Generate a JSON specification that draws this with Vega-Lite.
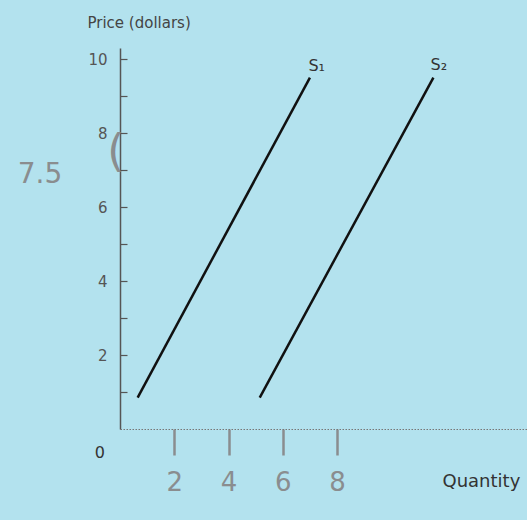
{
  "$schema": "https://vega.github.io/schema/vega-lite/v6.json",
  "width": 407,
  "height": 381,
  "autosize": {"type": "none"},
  "padding": {"left": 120, "top": 48, "right": 0, "bottom": 91},
  "background": "#b3e2ee",
  "config": {"view": {"stroke": null}, "font": "DejaVu Sans"},
  "datasets": {
    "lines": [
      {"curve": "S1", "quantity": 0.65, "price": 0.85},
      {"curve": "S1", "quantity": 7.0, "price": 9.5},
      {"curve": "S2", "quantity": 5.15, "price": 0.85},
      {"curve": "S2", "quantity": 11.55, "price": 9.5}
    ],
    "printed": [
      {"text": "S₁", "quantity": 7.25, "price": 9.8},
      {"text": "S₂", "quantity": 11.75, "price": 9.85},
      {"text": "0", "quantity": -0.74, "price": -0.65}
    ],
    "notes": [
      {"text": "7.5", "quantity": -2.95, "price": 6.86, "size": 28},
      {"text": "(", "quantity": -0.15, "price": 7.45, "size": 44}
    ]
  },
  "layer": [
    {
      "data": {"name": "lines"},
      "mark": {"type": "line", "color": "#111", "strokeWidth": 2.5},
      "encoding": {
        "x": {
          "field": "quantity", "type": "quantitative",
          "scale": {"domain": [0, 15], "nice": false, "zero": false},
          "axis": {
            "values": [2, 4, 6, 8], "grid": false,
            "domainColor": "#777", "domainDash": [1.5, 1.5], "domainWidth": 1,
            "tickColor": "#8a8d8f", "tickSize": 26, "tickWidth": 2.5,
            "labelFontSize": 26, "labelColor": "#8a8d8f", "labelPadding": 14,
            "title": "Quantity", "titleX": 322, "titleY": 57,
            "titleAlign": "left", "titleBaseline": "alphabetic",
            "titleFontSize": 18, "titleFontWeight": "normal", "titleColor": "#333"
          }
        },
        "y": {
          "field": "price", "type": "quantitative",
          "scale": {"domain": [0, 10.3], "nice": false},
          "axis": {
            "values": [1, 2, 3, 4, 5, 6, 7, 8, 9, 10], "grid": false,
            "labelExpr": "datum.value % 2 === 0 ? datum.label : ''",
            "domainColor": "#555", "domainWidth": 1.5,
            "tickColor": "#555", "tickSize": -7, "tickWidth": 1.2,
            "labelFontSize": 15, "labelColor": "#555", "labelPadding": 20,
            "title": "Price (dollars)", "titleAngle": 0, "titleX": -33, "titleY": -21,
            "titleAlign": "left", "titleBaseline": "alphabetic",
            "titleFontSize": 15, "titleFontWeight": "normal", "titleColor": "#444"
          }
        },
        "detail": {"field": "curve"}
      }
    },
    {
      "data": {"name": "printed"},
      "mark": {"type": "text", "fontSize": 16, "color": "#333", "align": "center", "baseline": "middle"},
      "encoding": {
        "x": {"field": "quantity", "type": "quantitative"},
        "y": {"field": "price", "type": "quantitative"},
        "text": {"field": "text"}
      }
    },
    {
      "data": {"name": "notes"},
      "mark": {"type": "text", "color": "#8a8d8f", "align": "center", "baseline": "middle"},
      "encoding": {
        "x": {"field": "quantity", "type": "quantitative"},
        "y": {"field": "price", "type": "quantitative"},
        "text": {"field": "text"},
        "size": {"field": "size", "type": "quantitative", "scale": null}
      }
    }
  ]
}
